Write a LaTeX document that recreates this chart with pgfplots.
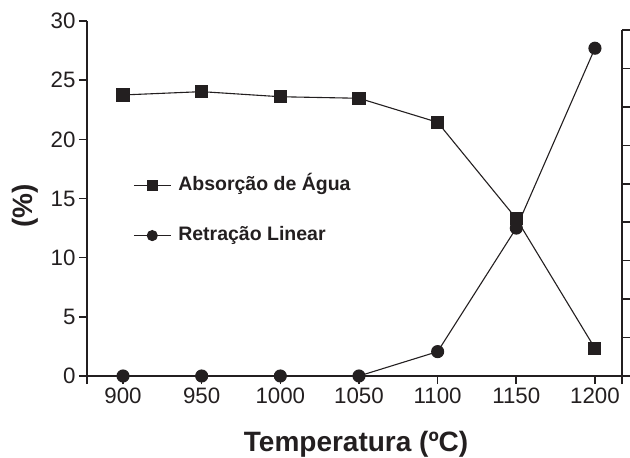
\documentclass[border=0pt]{standalone}
\usepackage{fontspec}
\setmainfont{Liberation Sans}
\usepackage{pgfplots}
\pgfplotsset{compat=1.18}
\definecolor{ink}{RGB}{35,31,32}
\pgfplotstableread{
T A R
900 23.75 0
950 24.03 0
1000 23.6 0
1050 23.47 0
1100 21.44 2.06
1150 13.3 12.5
1200 2.34 27.7
}\datatable
\begin{document}
\begin{tikzpicture}
\useasboundingbox (0pt,0pt) rectangle (630pt,458pt);
\begin{axis}[
  at={(87pt,82pt)}, anchor=south west, scale only axis,
  width=535pt, height=355pt,
  xmin=877.1, xmax=1217.2, ymin=0, ymax=30,
  axis x line*=bottom, axis y line*=left,
  axis line style={line width=2pt, -, ink},
  tick align=outside, major tick length=8pt,
  every tick/.style={ink, line width=1.6pt},
  xtick={900,950,...,1200}, ytick={0,5,...,30},
  extra x ticks={877.1,1217.2}, extra x tick labels={},
  /pgf/number format/assume math mode=true,
  /pgf/number format/1000 sep={},
  tick label style={font=\fontsize{22.3}{26}\selectfont, text=ink},
  xlabel={Temperatura (ºC)},
  ylabel={(\%)},
  xlabel style={font=\bfseries\fontsize{28}{32}\selectfont, text=ink, at={(axis description cs:0.503,-0.212)}, anchor=base},
  ylabel style={font=\bfseries\fontsize{28}{32}\selectfont, text=ink, at={(axis description cs:-0.116,0.48)}, anchor=center},
  clip=false,
  legend cell align=left,
  legend image code/.code={\draw[#1, no marks] (0pt,0pt) -- (37pt,0pt);
    \draw[#1, mark size=5pt, only marks] plot coordinates {(18.5pt,0pt)};
    \path (44pt,0pt);},
  legend style={draw=none, fill=none, at={(axis description cs:0.086,0.563)}, anchor=north west,
    font=\bfseries\fontsize{19.5}{23}\selectfont, text=ink, row sep=31.5pt, inner sep=0pt,
    nodes={inner sep=0pt, text height=14pt, text depth=4.5pt}},
]
\addplot[ink, line width=1.1pt, mark=square*, mark size=6pt, mark options={solid}] table[x=T,y=A]{\datatable};
\addlegendentry{Absorção de Água}
\addplot[ink, line width=1.1pt, mark=*, mark size=6pt, mark options={solid}] table[x=T,y=R]{\datatable};
\addlegendentry{Retração Linear}
\end{axis}
\begin{axis}[
  at={(87pt,82pt)}, anchor=south west, scale only axis,
  width=535pt, height=346pt,
  xmin=877.1, xmax=1217.2, ymin=0, ymax=9,
  axis x line=none, axis y line*=right,
  axis line style={line width=2pt, -, ink},
  tick align=outside, major tick length=8pt,
  every tick/.style={ink, line width=1.6pt},
  ytick={0,1,...,9}, yticklabels={},
]
\addplot[draw=none] coordinates {(900,0)};
\end{axis}
\end{tikzpicture}
\end{document}
